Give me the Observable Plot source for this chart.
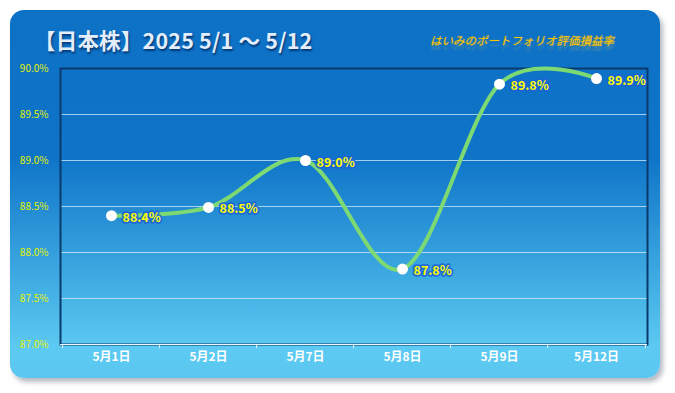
<!DOCTYPE html>
<html><head><meta charset="utf-8">
<script src="https://cdn.jsdelivr.net/npm/d3@7"></script>
<script src="https://cdn.jsdelivr.net/npm/@observablehq/plot@0.6"></script>
<style>
body{margin:0;background:#fff;width:675px;height:393px;overflow:hidden;font-family:"Noto Sans CJK JP","Noto Sans",sans-serif}
#panel{position:absolute;left:10px;top:10px;width:650px;height:368px;border-radius:14px;
 background:linear-gradient(#0d71c6 0%,#0f74c8 40%,#3aa6e0 70%,#5ccaf2 92%,#5bc7f0 100%);
 box-shadow:3px 4px 5px rgba(90,100,120,0.45)}
#title{position:absolute;left:24px;top:17px;line-height:26px;font-size:21.5px;font-weight:bold;color:#e4eefa;
 text-shadow:1px 2px 2px rgba(0,30,80,0.7);white-space:nowrap;letter-spacing:0.2px}
#sub{position:absolute;left:420px;top:23px;line-height:14px;font-size:11.5px;font-style:italic;white-space:nowrap;
 color:#ffc400;text-shadow:0 0 1px rgba(255,200,0,0.6), 0 5px 2px rgba(255,210,80,0.25)}
#chart{position:absolute;left:0;top:45px}
g[aria-label="xlabels"]{filter:drop-shadow(1px 1px 1px rgba(0,20,60,0.6))}
g[aria-label="vlabels"]{filter:drop-shadow(0 0 1.5px #1a5fd8)}
</style>
</head><body>
<div id="panel">
 <div id="title">【日本株】2025 5/1 ～ 5/12</div>
 <div id="sub">はいみのポートフォリオ評価損益率</div>
 <div id="chart"></div>
</div>
<script>
const dates = ["5月1日","5月2日","5月7日","5月8日","5月9日","5月12日"];
const rates = [88.4, 88.49, 89.0, 87.82, 89.83, 89.89];
const yTicks = [87, 87.5, 88, 88.5, 89, 89.5, 90];

const W = 650, H = 318, mL = 50, mR = 13, mT = 13, mB = 29;
const step = (W - mL - mR) / dates.length;
const data = dates.map((d, i) => ({date: d, rate: rates[i]}));

const chart = Plot.plot({
  width: W, height: H, marginLeft: mL, marginRight: mR, marginTop: mT, marginBottom: mB,
  style: {background: "transparent", overflow: "visible", fontFamily: "'Noto Sans CJK JP','Noto Sans',sans-serif"},
  x: {type: "point", domain: dates, padding: 0.5, axis: null},
  y: {domain: [87, 90], axis: null},
  marks: [
    Plot.ruleY(yTicks, {stroke: "#d6ecff", strokeOpacity: 0.75, strokeWidth: 1}),
    Plot.frame({stroke: "#0a3a6c", strokeWidth: 2}),
    Plot.ruleY([87], {stroke: "#e8f4ff", strokeWidth: 1.2}),
    Plot.ruleX(dates, {x: d => d, dx: -step / 2, y1: 87, y2: 86.955, stroke: "#e8f4ff", strokeWidth: 1}),
    Plot.ruleX([dates[dates.length - 1]], {x: d => d, dx: step / 2, y1: 87, y2: 86.955, stroke: "#e8f4ff", strokeWidth: 1}),
    Plot.text(yTicks, {y: d => d, frameAnchor: "left", dx: -12, textAnchor: "end",
      text: d => d.toFixed(1) + "%", fill: "#e2f200", fontSize: 10}),
    Plot.text(dates, {x: d => d, frameAnchor: "bottom", dy: 16, text: d => d,
      fill: "#ffffff", fontSize: 12, fontWeight: "bold", ariaLabel: "xlabels"}),
    Plot.line(data, {x: "date", y: "rate", curve: "cardinal", tension: 0,
      stroke: "#7dda72", strokeWidth: 4}),
    Plot.dot(data, {x: "date", y: "rate", r: 5.5, fill: "#ffffff"}),
    Plot.text(data, {x: "date", y: "rate", text: d => d.rate.toFixed(1) + "%", dx: 11, dy: 2,
      textAnchor: "start", fill: "#ffff00", stroke: "#1d62d8", strokeWidth: 3.5, strokeOpacity: 0.85,
      fontSize: 12.5, fontWeight: "bold", ariaLabel: "vlabels"})
  ]
});
document.getElementById("chart").appendChild(chart);
</script>
</body></html>
